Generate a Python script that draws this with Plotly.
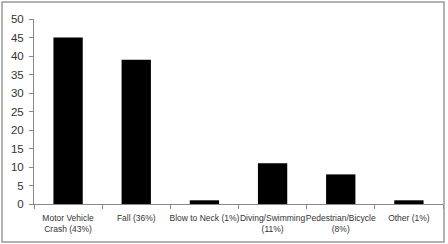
import plotly.graph_objects as go

categories = ["Motor Vehicle<br>Crash (43%)", "Fall (36%)", "Blow to Neck (1%)",
              "Diving/Swimming<br>(11%)", "Pedestrian/Bicycle<br>(8%)", "Other (1%)"]
values = [45, 39, 1, 11, 8, 1]
y_ticks = [0, 5, 10, 15, 20, 25, 30, 35, 40, 45, 50]

W, H = 448, 244
L, R, T, B = 34, 5, 19, 40
pw, ph = W - L - R, H - T - B

def px_x(p):
    return (p - L) / pw

def px_y(p):
    return (H - B - p) / ph

FONT = "Liberation Sans, Arial, sans-serif"

fig = go.Figure(go.Bar(x=categories, y=values, marker=dict(color="black", line=dict(width=0)), width=0.43))

fig.update_layout(
    width=W, height=H,
    margin=dict(l=L, r=R, t=T, b=B, autoexpand=False),
    paper_bgcolor="white", plot_bgcolor="white",
    font=dict(family=FONT, size=10, color="#333"),
    showlegend=False,
    shapes=[dict(type="rect", xref="paper", yref="paper",
                 x0=px_x(2), x1=px_x(444), y0=px_y(242), y1=px_y(2),
                 line=dict(color="#999", width=1.5), layer="above")],
)
fig.update_xaxes(type="category", showline=True, linecolor="#888", linewidth=1,
                 ticks="outside", tickson="boundaries", ticklen=4, tickcolor="#888",
                 showgrid=False, tickfont=dict(size=8.5), tickangle=0, automargin=False,
                 ticklabelstandoff=6)
fig.update_yaxes(range=[0, 50], tickvals=y_ticks, showline=True, linecolor="#888", linewidth=1,
                 ticks="outside", ticklen=4, tickcolor="#888", showgrid=False, zeroline=False,
                 tickfont=dict(size=11.5), automargin=False, ticklabelstandoff=3)

fig.write_html("out.html", config={"displayModeBar": False},
               post_script="document.body.style.margin='0';document.body.style.overflow='hidden';")
